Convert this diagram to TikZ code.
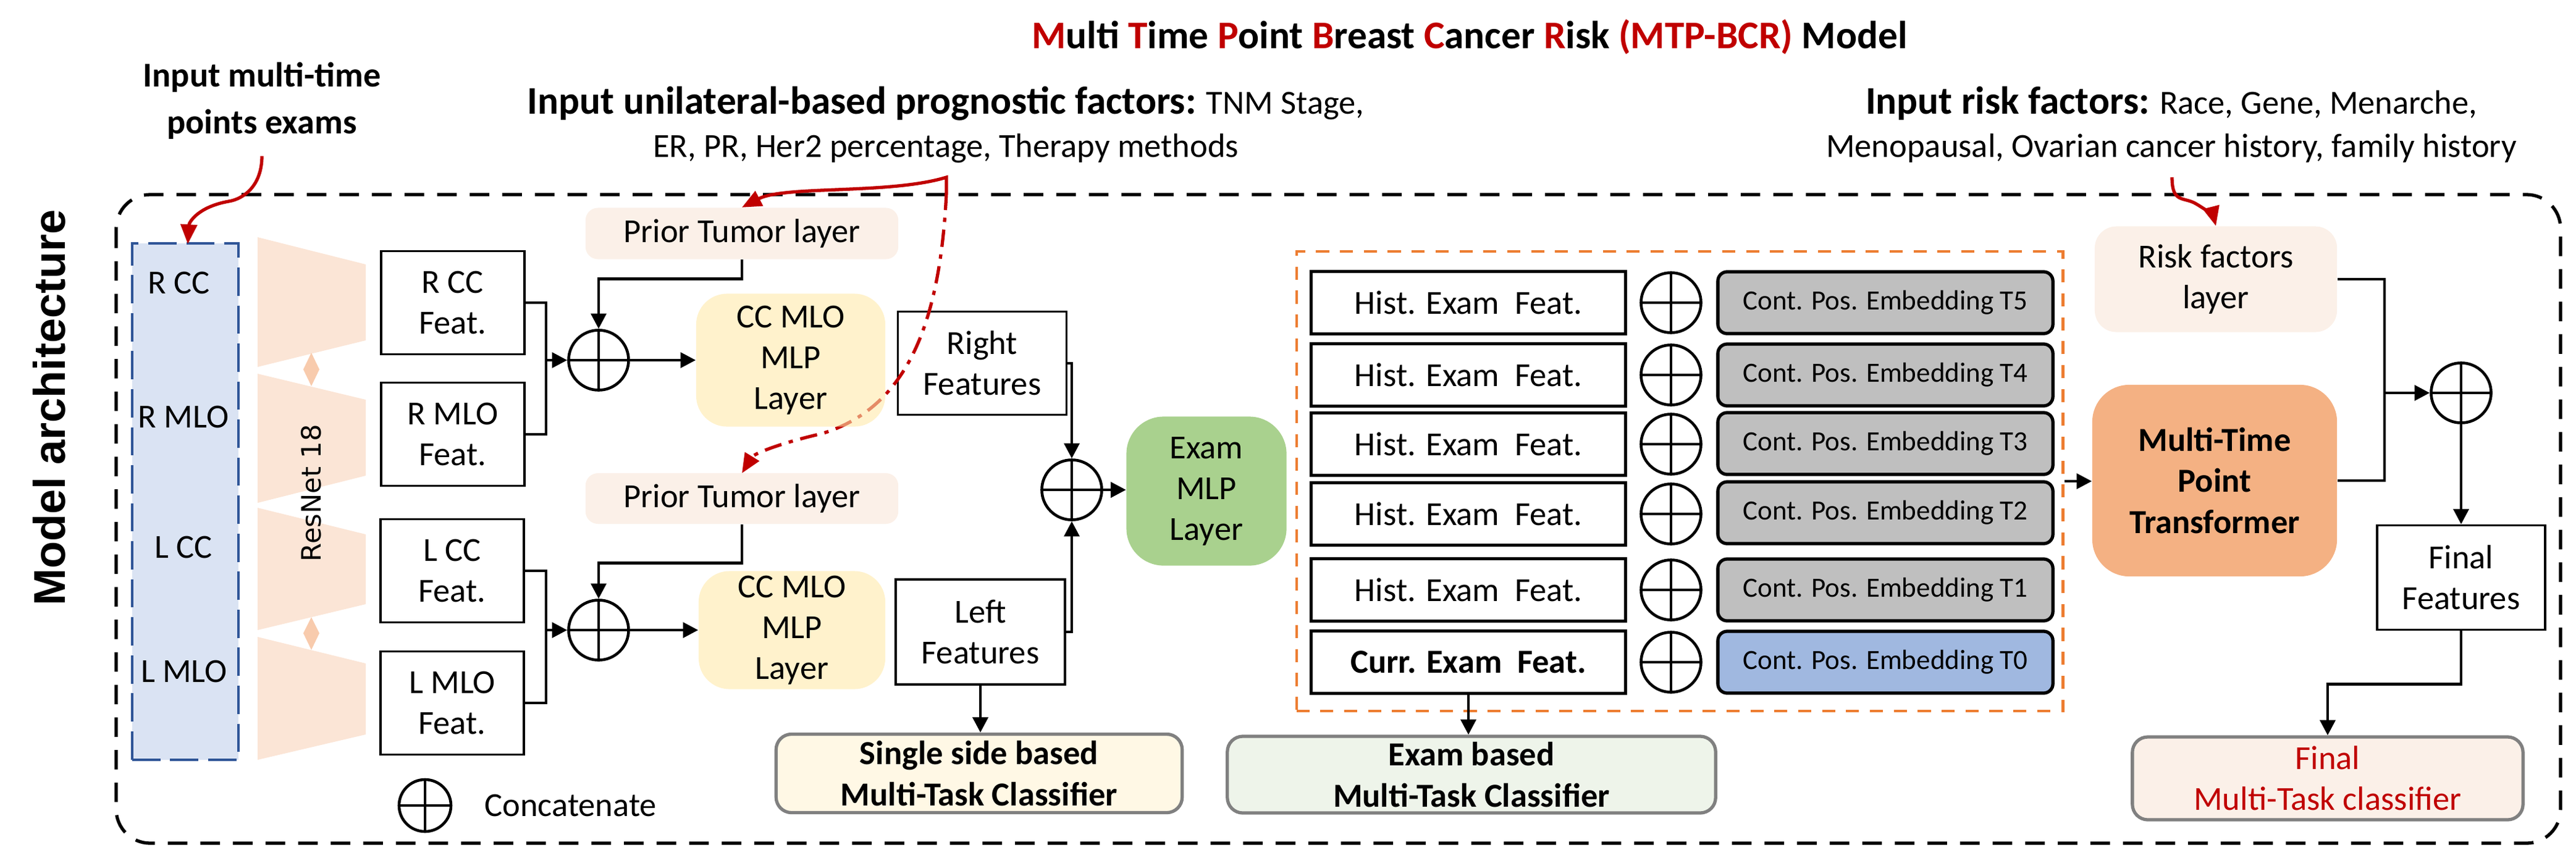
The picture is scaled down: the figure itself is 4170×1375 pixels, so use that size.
\documentclass[tikz,border=0pt]{standalone}
\usepackage{fontspec}
\setmainfont{Carlito}
\newfontfamily\archfont{Liberation Sans}
\newfontfamily\resfont{DejaVu Sans}
\usepackage{xcolor}
\usepackage{tikz}
\usetikzlibrary{calc}
\usetikzlibrary{arrows.meta}
\definecolor{mtpred}{HTML}{C00000}
\definecolor{examblue}{HTML}{DAE3F3}
\definecolor{examborder}{HTML}{2F5597}
\definecolor{resfill}{HTML}{FBE5D6}
\definecolor{diamfill}{HTML}{F8CBAD}
\definecolor{priorfill}{HTML}{FBF0E8}
\definecolor{mlpyellow}{HTML}{FFF2CC}
\definecolor{mlpyellowdeep}{HTML}{FFE9AA}
\definecolor{mlpgreen}{HTML}{A9D18E}
\definecolor{transfill}{HTML}{F4B183}
\definecolor{embgray}{HTML}{BFBFBF}
\definecolor{embblue}{HTML}{A0B8E0}
\definecolor{historange}{HTML}{ED7D31}
\definecolor{clsgray}{HTML}{808080}
\definecolor{singlefill}{HTML}{FFF8E5}
\definecolor{examclsfill}{HTML}{EEF4EA}
\newcommand{\boxfont}{\fontsize{15.5pt}{18.8pt}\selectfont}
\newcommand{\labfont}{\fontsize{18pt}{19.9pt}\selectfont\bfseries}
\newcommand{\embfont}{\fontsize{12.8pt}{15pt}\selectfont}
\tikzstyle{every node}=[font=\boxfont]
\tikzstyle{outerdash}=[line width=1.5pt, dash pattern=on 9pt off 6pt, rounded corners=0.55cm]
\tikzstyle{examsbox}=[draw=examborder, fill=examblue, line width=1.2pt, dash pattern=on 13pt off 4.5pt, minimum width=1.72cm, minimum height=8.35cm, inner sep=0pt]
\tikzstyle{feat}=[draw, line width=1pt, align=center, inner sep=0pt, minimum width=2.32cm, minimum height=1.67cm]
\tikzstyle{softbox}=[align=center, inner sep=0pt, rounded corners=0.2cm]
\tikzstyle{concat}=[draw, circle, line width=1.3pt, minimum size=0.97cm, inner sep=0pt, path picture={\draw[line width=1.3pt] (path picture bounding box.north) -- (path picture bounding box.south) (path picture bounding box.west) -- (path picture bounding box.east);}]
\tikzstyle{histbox}=[draw, line width=1.5pt, inner sep=0pt, minimum width=5.09cm, minimum height=1.01cm]
\tikzstyle{embed}=[draw, line width=1.5pt, rounded corners=0.15cm, inner sep=0pt, minimum width=5.42cm, minimum height=1.0cm, font=\embfont]
\tikzstyle{classifier}=[draw=clsgray, line width=1.5pt, rounded corners=0.25cm, align=center, inner sep=0pt]
\tikzstyle{conn}=[line width=1.3pt]
\tikzstyle{redarrow}=[draw=mtpred, line width=1.5pt, -{Triangle[length=9pt,width=7.5pt]}]

\begin{document}
\begin{tikzpicture}[x=0.01cm, y=-0.01cm, >={Triangle[length=7pt,width=7pt]}]
    \useasboundingbox (0,0) rectangle (4170,1375);

    \draw[outerdash] (188,315) rectangle (4145,1365);

    \node[font=\labfont] (title) at (2379,60) {\textcolor{mtpred}{M}ulti \textcolor{mtpred}{T}ime \textcolor{mtpred}{P}oint \textcolor{mtpred}{B}reast \textcolor{mtpred}{C}ancer \textcolor{mtpred}{R}isk \textcolor{mtpred}{(MTP-BCR)} Model};
    \node[font=\fontsize{16pt}{21.6pt}\selectfont\bfseries, align=center] (inexams) at (424,163) {Input multi-time\\points exams};
    \node[font=\fontsize{15.5pt}{19.9pt}\selectfont, align=center] (inuni) at (1531,202) {{\labfont Input unilateral-based prognostic factors:} TNM Stage,\\ER, PR, Her2 percentage, Therapy methods};
    \node[font=\fontsize{15.5pt}{19.9pt}\selectfont, align=center] (inrisk) at (3515,202) {{\labfont Input risk factors:} Race, Gene, Menarche,\\Menopausal, Ovarian cancer history, family history};

    \node[rotate=90, font=\archfont\fontsize{20.5pt}{24pt}\selectfont\bfseries] (archlabel) at (80,660) {Model architecture};

    \node[examsbox] (exams) at (300,812) {};
    \node (rcc) at (290,458) {R CC};
    \node (rmlo) at (297,675) {R MLO};
    \node (lcc) at (297,886) {L CC};
    \node (lmlo) at (298,1087) {L MLO};

    \fill[resfill] (417,384) -- (592,428) -- (592,551) -- (417,594) -- cycle;
    \fill[resfill] (417,605) -- (592,647) -- (592,770) -- (417,814) -- cycle;
    \fill[resfill] (417,822) -- (592,865) -- (592,978) -- (417,1020) -- cycle;
    \fill[resfill] (417,1031) -- (592,1074) -- (592,1189) -- (417,1230) -- cycle;
    \fill[diamfill] (504,571) -- (517,598) -- (504,625) -- (491,598) -- cycle;
    \fill[diamfill] (504,999) -- (517,1025) -- (504,1052) -- (491,1025) -- cycle;
    \node[rotate=90, font=\resfont\fontsize{12.3pt}{14pt}\selectfont] (resnet) at (504,798) {ResNet 18};

    \node[feat] (rccf) at (733,490) {R CC\\Feat.};
    \node[feat] (rmlof) at (733,703) {R MLO\\Feat.};
    \node[feat] (lccf) at (732,924) {L CC\\Feat.};
    \node[feat] (lmlof) at (732,1138) {L MLO\\Feat.};

    \node[feat, minimum width=2.73cm, minimum height=1.67cm] (rightf) at (1590,588) {Right\\Features};
    \node[feat, minimum width=2.74cm, minimum height=1.70cm] (leftf) at (1587,1023) {Left\\Features};

    \draw[redarrow, dash pattern=on 8pt off 3.5pt on 2pt off 3.5pt] (1532,312) .. controls (1522,520) and (1470,660) .. (1330,702) .. controls (1260,718) and (1220,735) .. (1201,766);

    \node[softbox, fill=priorfill, minimum width=5.06cm, minimum height=0.83cm] (prior1) at (1201,378) {Prior Tumor layer};
    \node[softbox, fill=priorfill, minimum width=5.06cm, minimum height=0.82cm] (prior2) at (1201,807) {Prior Tumor layer};

    \node[concat] (cat1) at (969,583) {};
    \node[concat] (cat2) at (969,1020) {};

    \node[softbox, rounded corners=0.5cm, fill=mlpyellowdeep, fill opacity=0.6, text opacity=1, minimum width=3.06cm, minimum height=2.15cm] (mlp1) at (1280,583) {CC MLO\\MLP\\Layer};
    \node[softbox, rounded corners=0.5cm, fill=mlpyellow, minimum width=3.02cm, minimum height=1.91cm] (mlp2) at (1282,1020) {CC MLO\\MLP\\Layer};

    \coordinate (j1) at (884,583);
    \coordinate (j3) at (884,1020);
    \draw[conn, ->] (prior1.south) -- ++(0,31) -| (cat1.north);
    \draw[conn] (rccf.east) -| (j1);
    \draw[conn] (rmlof.east) -| (j1);
    \draw[conn, ->] (j1) -- (cat1.west);
    \draw[conn, ->] (cat1.east) -- (mlp1.west);
    \draw[conn, ->] (prior2.south) -- ++(0,63) -| (cat2.north);
    \draw[conn] (lccf.east) -| (j3);
    \draw[conn] (lmlof.east) -| (j3);
    \draw[conn, ->] (j3) -- (cat2.west);
    \draw[conn, ->] (cat2.east) -- (mlp2.west);

    \node[concat] (cat3) at (1735,793) {};
    \node[softbox, rounded corners=0.6cm, fill=mlpgreen, minimum width=2.59cm, minimum height=2.41cm] (exammlp) at (1953,795) {Exam\\MLP\\Layer};

    \draw[conn, ->] (rightf.east) -| (cat3.north);
    \draw[conn, ->] (leftf.east) -| (cat3.south);
    \draw[conn, ->] (cat3.east) -- (cat3.east -| exammlp.west);

    \node[classifier, fill=singlefill, font=\boxfont\bfseries, minimum width=6.57cm, minimum height=1.27cm] (single) at (1585,1252) {Single side based\\Multi-Task Classifier};
    \draw[conn, ->] (leftf.south) -- (leftf.south |- single.north);

    \node[draw=historange, line width=1.2pt, dash pattern=on 6pt off 5pt, inner sep=0pt, minimum width=12.4cm, minimum height=7.43cm] (histgroup) at (2719,779) {};

    \node[histbox] (h5) at (2377,490) {Hist. Exam\ \ Feat.};
    \node[histbox] (h4) at (2377,607) {Hist. Exam\ \ Feat.};
    \node[histbox] (h3) at (2377,719) {Hist. Exam\ \ Feat.};
    \node[histbox] (h2) at (2377,832) {Hist. Exam\ \ Feat.};
    \node[histbox] (h1) at (2377,955) {Hist. Exam\ \ Feat.};
    \node[histbox, font=\boxfont\bfseries] (curr) at (2377,1072) {Curr. Exam\ \ Feat.};

    \node[concat] (c5) at (2705,490) {};
    \node[concat] (c4) at (2705,607) {};
    \node[concat] (c3) at (2705,719) {};
    \node[concat] (c2) at (2705,832) {};
    \node[concat] (c1) at (2705,955) {};
    \node[concat] (c0) at (2705,1072) {};

    \node[embed, fill=embgray] (e5) at (3052,490) {Cont. Pos. Embedding T5};
    \node[embed, fill=embgray] (e4) at (3052,607) {Cont. Pos. Embedding T4};
    \node[embed, fill=embgray] (e3) at (3052,718) {Cont. Pos. Embedding T3};
    \node[embed, fill=embgray] (e2) at (3052,830) {Cont. Pos. Embedding T2};
    \node[embed, fill=embgray] (e1) at (3052,955) {Cont. Pos. Embedding T1};
    \node[embed, fill=embblue] (e0) at (3052,1072) {Cont. Pos. Embedding T0};

    \node[classifier, fill=examclsfill, font=\boxfont\bfseries, minimum width=7.9cm, minimum height=1.24cm] (examcls) at (2382,1254) {Exam based\\Multi-Task Classifier};
    \draw[conn, ->] (curr.south) -- (curr.south |- examcls.north);

    \node[softbox, rounded corners=0.35cm, fill=priorfill, minimum width=3.92cm, minimum height=1.71cm] (risk) at (3587,452) {Risk factors\\layer};
    \node[softbox, rounded corners=0.6cm, fill=transfill, font=\boxfont\bfseries, minimum width=3.96cm, minimum height=3.10cm] (trans) at (3585,778) {Multi-Time\\Point\\Transformer};
    \draw[conn, ->] (histgroup.east) -- (histgroup.east -| trans.west);

    \node[concat] (catf) at (3984,636) {};
    \node[feat, minimum width=2.72cm, minimum height=1.69cm] (finalf) at (3984,935) {Final\\Features};
    \node[classifier, fill=priorfill, text=mtpred, minimum width=6.32cm, minimum height=1.34cm] (finalcls) at (3768,1260) {Final\\Multi-Task classifier};

    \coordinate (j2) at (3860,636);
    \draw[conn] (risk.east) -| (j2);
    \draw[conn] (trans.east) -| (j2);
    \draw[conn, ->] (j2) -- (catf.west);
    \draw[conn, ->] (catf.south) -- (finalf.north);
    \draw[conn, ->] (finalf.south) -- ++(0,86) -| (finalcls.north);

    \node[concat, minimum size=0.84cm] (legcat) at (688,1304) {};
    \node[anchor=west] (legtxt) at (772,1304) {Concatenate};

    \draw[redarrow] (inexams.south) ++(0,15) .. controls (424,300) and (395,322) .. (370,326) .. controls (320,335) and (306,360) .. (304,395);
    \draw[redarrow] (1532,312) -- (1532,287) .. controls (1440,315) and (1270,300) .. (prior1.north);
    \draw[redarrow] (3516,287) .. controls (3516,330) and (3535,318) .. (3555,330) .. controls (3575,342) and (3583,350) .. (risk.north);
\end{tikzpicture}
\end{document}
